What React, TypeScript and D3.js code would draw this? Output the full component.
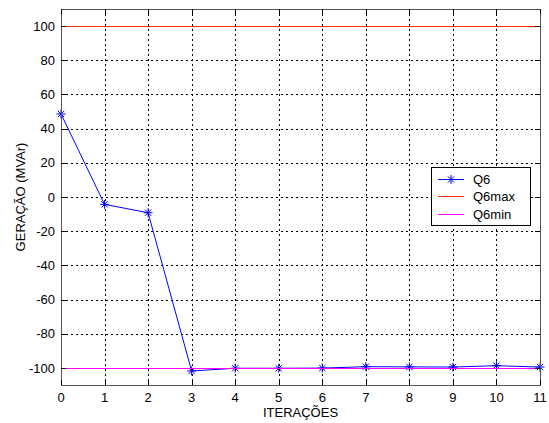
import React from "react";
import * as d3 from "d3";

const iterations = [0, 1, 2, 3, 4, 5, 6, 7, 8, 9, 10, 11];
const q6 = [48.6, -4.3, -9.2, -101.8, -100.2, -100.2, -100.1, -99.3, -99.4, -99.5, -98.7, -99.5];
const q6max = [100, 100];
const q6min = [-100, -100];
const xTicks = [0, 1, 2, 3, 4, 5, 6, 7, 8, 9, 10, 11];
const yTicks = [-100, -80, -60, -40, -20, 0, 20, 40, 60, 80, 100];
const legendLabels = ["Q6", "Q6max", "Q6min"];
const colors = ["#0000ff", "#ff2a00", "#ff00ff"];

const W = 549, H = 423;
const L = 61, R = 540, T = 9, B = 385;

export default function App() {
  const x = d3.scaleLinear().domain([0, 11]).range([L, R]);
  const y = d3.scaleLinear().domain([-110, 110]).range([B, T]);
  const px = (v: number) => Math.round(v) + 0.5;
  const line = d3.line<number>().x((_, i) => x(iterations[i])).y((d) => y(d));
  const font = "'Liberation Sans', Arial, sans-serif";

  const star = (cx: number, cy: number, key: string, s = 4.5) => (
    <g key={key} stroke={colors[0]} strokeWidth={1}>
      <line x1={cx - s} y1={cy} x2={cx + s} y2={cy} />
      <line x1={cx} y1={cy - s} x2={cx} y2={cy + s} />
      <line x1={cx - s * 0.7} y1={cy - s * 0.7} x2={cx + s * 0.7} y2={cy + s * 0.7} />
      <line x1={cx - s * 0.7} y1={cy + s * 0.7} x2={cx + s * 0.7} y2={cy - s * 0.7} />
    </g>
  );

  const lx = 431.5, ly = 167.5, lw = 99, lh = 58;
  return (
    <svg width={W} height={H} style={{ position: "absolute", left: 0, top: 0, background: "#fff" }}>
      <rect x={0} y={0} width={W} height={H} fill="#fff" />
      {/* grid */}
      {xTicks.map((t) => (
        <line key={"gx" + t} x1={px(x(t))} x2={px(x(t))} y1={T} y2={B} stroke="#000" strokeWidth={1} strokeDasharray="2,3" />
      ))}
      {yTicks.map((t) => (
        <line key={"gy" + t} x1={L} x2={R} y1={px(y(t))} y2={px(y(t))} stroke="#000" strokeWidth={1} strokeDasharray="2,3" />
      ))}
      {/* data */}
      <path d={line(q6) || ""} fill="none" stroke={colors[0]} strokeWidth={1} />
      {q6.map((v, i) => star(x(iterations[i]), y(v), "s" + i))}
      <line x1={x(0)} x2={x(11)} y1={px(y(q6max[0]))} y2={px(y(q6max[1]))} stroke={colors[1]} strokeWidth={1} />
      <line x1={x(0)} x2={x(11)} y1={px(y(q6min[0]))} y2={px(y(q6min[1]))} stroke={colors[2]} strokeWidth={1} />
      {/* axes box */}
      <rect x={px(L)} y={px(T)} width={R - L} height={B - T} fill="none" stroke="#555" strokeWidth={1} />
      {xTicks.map((t) => (
        <g key={"tx" + t}>
          <line x1={px(x(t))} x2={px(x(t))} y1={B} y2={B - 5} stroke="#000" />
          <line x1={px(x(t))} x2={px(x(t))} y1={T} y2={T + 5} stroke="#000" />
          <text x={x(t)} y={402} textAnchor="middle" fontFamily={font} fontSize={13} fill="#000">{t}</text>
        </g>
      ))}
      {yTicks.map((t) => (
        <g key={"ty" + t}>
          <line x1={L} x2={L + 5} y1={px(y(t))} y2={px(y(t))} stroke="#000" />
          <line x1={R} x2={R - 5} y1={px(y(t))} y2={px(y(t))} stroke="#000" />
          <text x={55} y={y(t) + 4.6} textAnchor="end" fontFamily={font} fontSize={13} fill="#000">{t}</text>
        </g>
      ))}
      <text x={(L + R) / 2} y={417} textAnchor="middle" fontFamily={font} fontSize={13} fill="#000">ITERAÇÕES</text>
      <text transform={`translate(25,${(T + B) / 2}) rotate(-90)`} textAnchor="middle" fontFamily={font} fontSize={13} fill="#000">GERAÇÃO (MVAr)</text>
      {/* legend */}
      <rect x={lx} y={ly} width={lw} height={lh} fill="#fff" stroke="#000" strokeWidth={1} />
      {legendLabels.map((lab, i) => {
        const yy = Math.round(ly + 11 + i * 17.5) + 0.5;
        return (
          <g key={"lg" + i}>
            <line x1={438} x2={464} y1={yy} y2={yy} stroke={colors[i]} strokeWidth={1} />
            {i === 0 && star(451, yy, "lgs")}
            <text x={473} y={yy + 4.6} fontFamily={font} fontSize={13} fill="#000">{lab}</text>
          </g>
        );
      })}
    </svg>
  );
}
